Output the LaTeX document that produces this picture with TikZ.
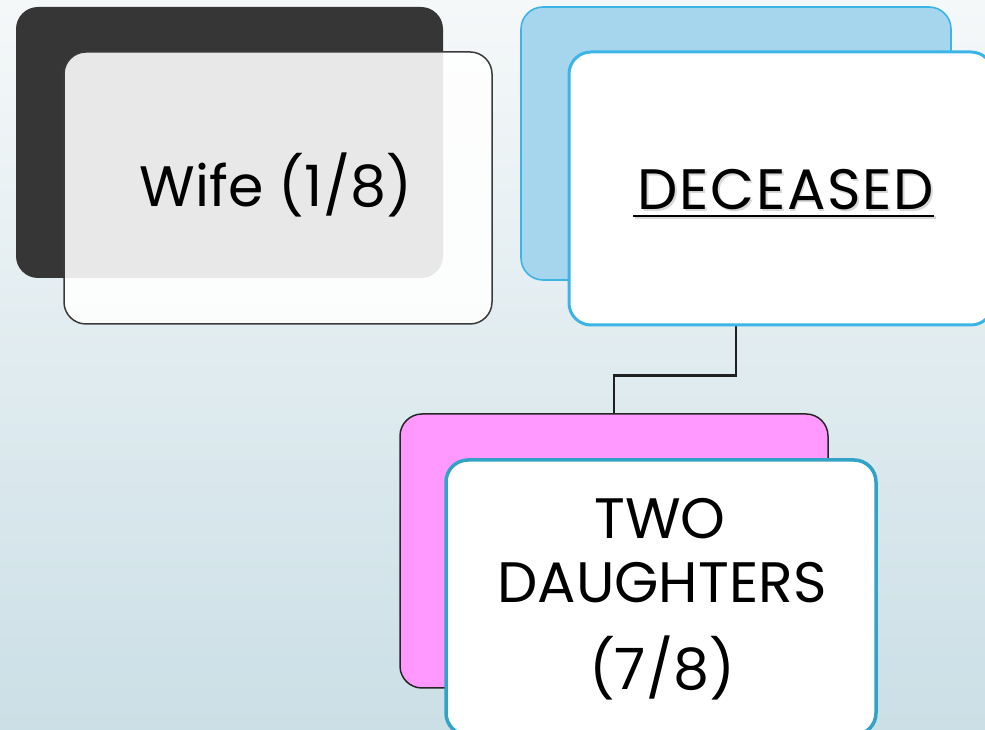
\documentclass[tikz,border=0pt]{standalone}
\usepackage{fontspec}
\setmainfont{Poppins}
\definecolor{bgtop}{HTML}{F5F8F9}
\definecolor{bgbot}{HTML}{CBDFE6}
\definecolor{darkbox}{HTML}{363636}
\definecolor{darkline}{HTML}{3A3A3A}
\definecolor{lightblue}{HTML}{A6D5EE}
\definecolor{skyline}{HTML}{3CB4E5}
\definecolor{pinkfill}{HTML}{FF99FF}
\definecolor{tealline}{HTML}{31A3C6}
\tikzset{
  card/.style={rectangle, rounded corners=22pt, minimum width=428pt, minimum height=272pt, inner sep=0pt},
  bigtext/.style={anchor=base, inner sep=0pt, font=\fontsize{57}{68}\selectfont, text=black},
  spaced/.style={font=\fontsize{57}{68}\selectfont\addfontfeature{LetterSpace=3}},
  link/.style={draw=black!88, line width=2.8pt}
}
\begin{document}
\begin{tikzpicture}[x=1pt,y=1pt]
\useasboundingbox (0,0) rectangle (985,730);
\clip (0,0) rectangle (985,730);
\shade[top color=bgtop, bottom color=bgbot] (0,0) rectangle (985,730);
% Wife
\node[card, fill=darkbox, minimum width=427pt, minimum height=271pt] (wifeback) at (229.5,587.5) {};
\node[card, fill=white, fill opacity=0.89, draw=darkline, line width=1.5pt] (wifefront) at (278,542) {};
\node[bigtext] (wifetext) at (276,523) {Wife (1/8)};
% Deceased back and daughters back
\node[card, fill=lightblue, draw=skyline, line width=1.6pt, minimum width=430pt, minimum height=273pt] (decback) at (736,586.5) {};
\node[card, fill=pinkfill, draw=black!85, line width=1.5pt, minimum height=274pt] (pinkback) at (614,179) {};
\coordinate (bend) at ([yshift=-95pt]decback.south);
\draw[link] (decback.south) -- (bend) -| (pinkback.north);
% fronts
\node[card, fill=white, draw=skyline, line width=3pt, minimum width=424pt, minimum height=273pt] (decfront) at (781,541.5) {};
\node[bigtext, spaced, text=black!25, opacity=0.6] (decshadow) at (787.5,518.5) {DECEASED};
\node[bigtext, spaced] (dectext) at (786,520) {DECEASED};
\draw[line width=2.8pt, black!25, opacity=0.6] (635,512.5) -- (936,512.5);
\draw[line width=2.8pt, black] (633,514) -- (934,514);
\node[card, fill=white, draw=tealline, line width=3.5pt, minimum width=430pt, minimum height=275pt] (dauglfront) at (661,132.5) {};
\node[bigtext] (twotext) at (660,191) {TWO};
\node[bigtext] (daughtext) at (662,127) {DAUGHTERS};
\node[bigtext] (fractext) at (662,40) {(7/8)};
\end{tikzpicture}
\end{document}
